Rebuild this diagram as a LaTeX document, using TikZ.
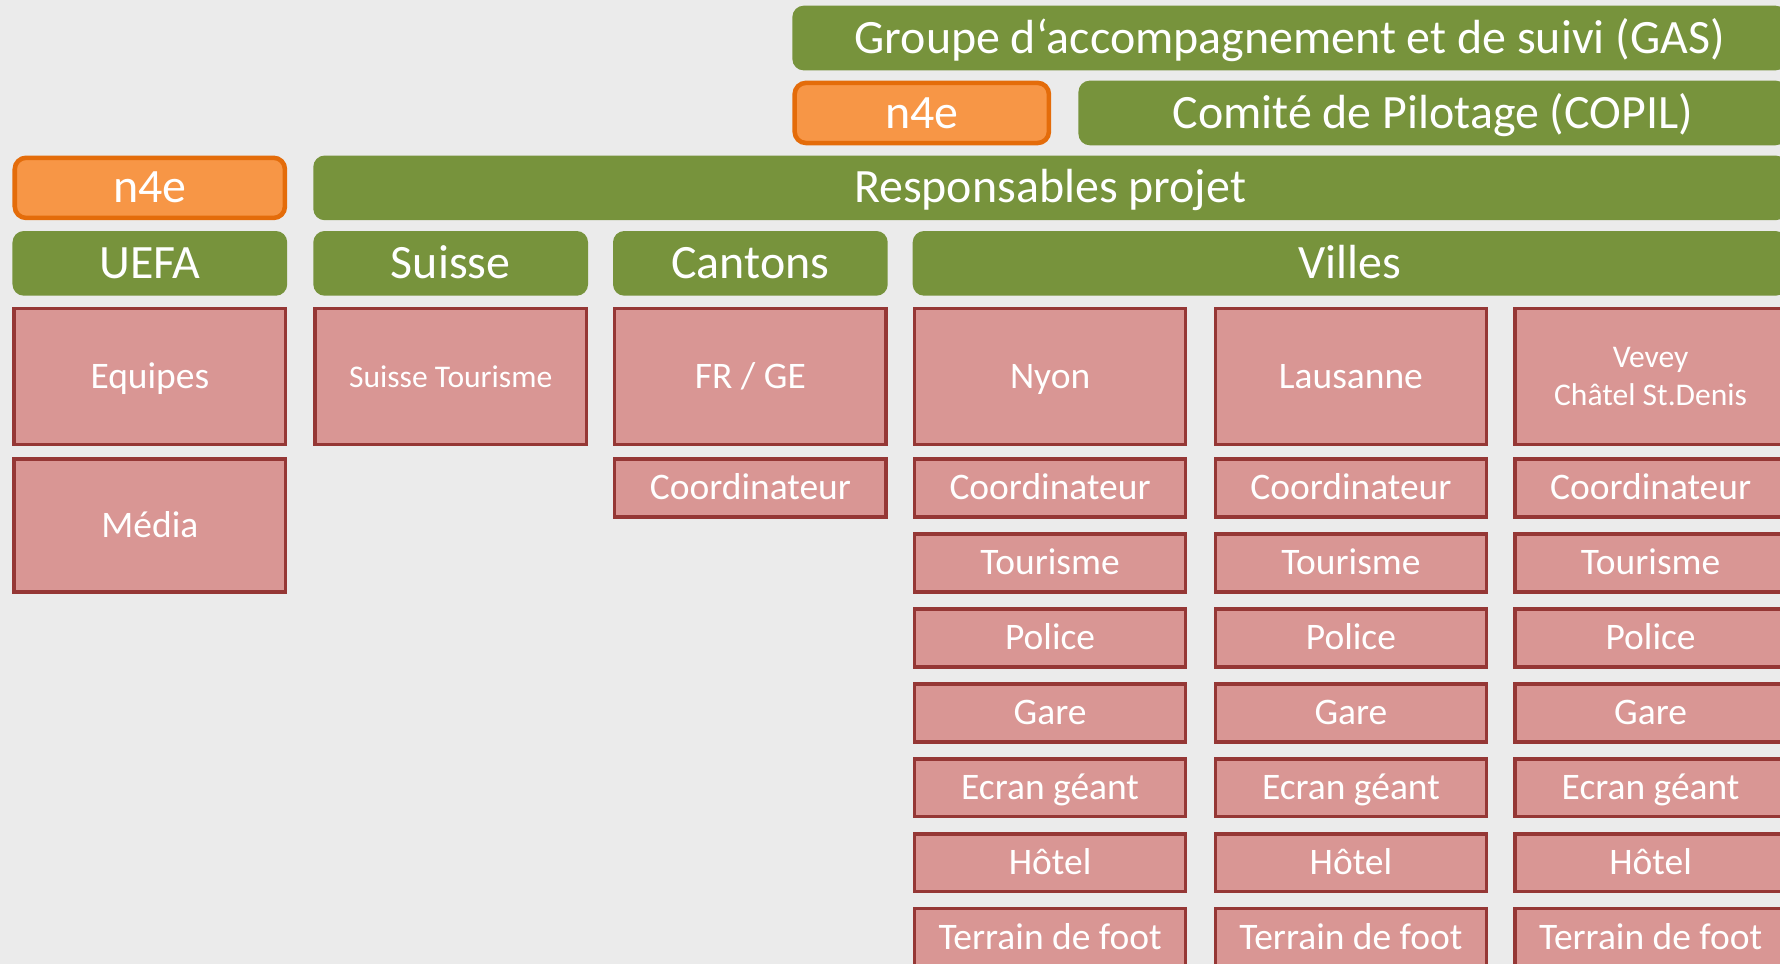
\documentclass[tikz,border=0pt]{standalone}
\usepackage{fontspec}
\setmainfont{Carlito}

\definecolor{fond}{HTML}{EBEBEB}
\definecolor{vert}{HTML}{77933C}
\definecolor{rose}{HTML}{D99694}
\definecolor{bordeaux}{HTML}{953735}
\definecolor{orange}{HTML}{F79646}
\definecolor{orangefonce}{HTML}{E46C0A}

\tikzset{
    titre/.style={fill=vert, rounded corners=5pt, text=white, inner sep=0pt,
        minimum height=28.5pt, font=\fontsize{21.1}{25}\selectfont,
        text height=13.3pt, text depth=0pt},
    partenaire/.style={fill=orange, draw=orangefonce, line width=2pt, rounded corners=5pt,
        text=white, inner sep=0pt, minimum height=26.5pt, font=\fontsize{21.1}{25}\selectfont,
        text height=13.3pt, text depth=0pt},
    poste/.style={fill=rose, draw=bordeaux, line width=1.5pt, text=white, inner sep=0pt,
        minimum width=119.5pt, minimum height=25.5pt, font=\fontsize{16.5}{20}\selectfont,
        text height=10.4pt, text depth=0pt},
    grandposte/.style={poste, minimum height=60pt},
    petit/.style={font=\fontsize{13.9}{16.5}\selectfont, align=center, text height=, text depth=}
}

\begin{document}
\begin{tikzpicture}[x=0.5pt,y=-0.5pt]

    \useasboundingbox (0,0) rectangle (1568,849);
    \clip (0,0) rectangle (1568,849);
    \fill[fond] (0,0) rectangle (1568,849);

    % niveaux de pilotage
    \node[titre, minimum width=438pt] (gas) at (1136,33.5) {Groupe d‘accompagnement et de suivi (GAS)};
    \node[partenaire, minimum width=112pt] (n4ehaut) at (812,99.5) {n4e};
    \node[titre, minimum width=312pt] (copil) at (1262,99.5) {Comité de Pilotage (COPIL)};
    \node[partenaire, minimum width=119pt] (n4e) at (132,165.5) {n4e};
    \node[titre, minimum width=649pt] (resp) at (925,165.5) {Responsables projet};

    % groupes
    \node[titre, minimum width=121pt] (uefa) at (132,232) {UEFA};
    \node[titre, minimum width=121pt] (suisse) at (397,232) {Suisse};
    \node[titre, minimum width=121pt] (cantons) at (661,232) {Cantons};
    \node[titre, minimum width=385pt] (villes) at (1189,232) {Villes};

    % membres
    \node[grandposte] (equipes) at (132,331.5) {Equipes};
    \node[grandposte, minimum height=58.5pt] (media) at (132,463) {Média};
    \node[grandposte, petit] (tourismech) at (397,331.5) {Suisse Tourisme};
    \node[grandposte] (frge) at (661,331.5) {FR / GE};
    \node[poste] (coordcant) at (661,430) {Coordinateur};

    \node[grandposte] (nyon) at (925,331.5) {Nyon};
    \node[grandposte] (lausanne) at (1190,331.5) {Lausanne};
    \node[grandposte, petit] (vevey) at (1454,331.5) {Vevey\\Châtel St.Denis};

    \foreach \ville/\cx in {nyon/925, lausanne/1190, vevey/1454}
        \foreach \lbl [count=\i] in {Coordinateur, Tourisme, Police, Gare, Ecran géant, Hôtel, Terrain de foot}
            \node[poste] (\ville-\i) at (\cx,{430+66*(\i-1)}) {\lbl};

\end{tikzpicture}
\end{document}
